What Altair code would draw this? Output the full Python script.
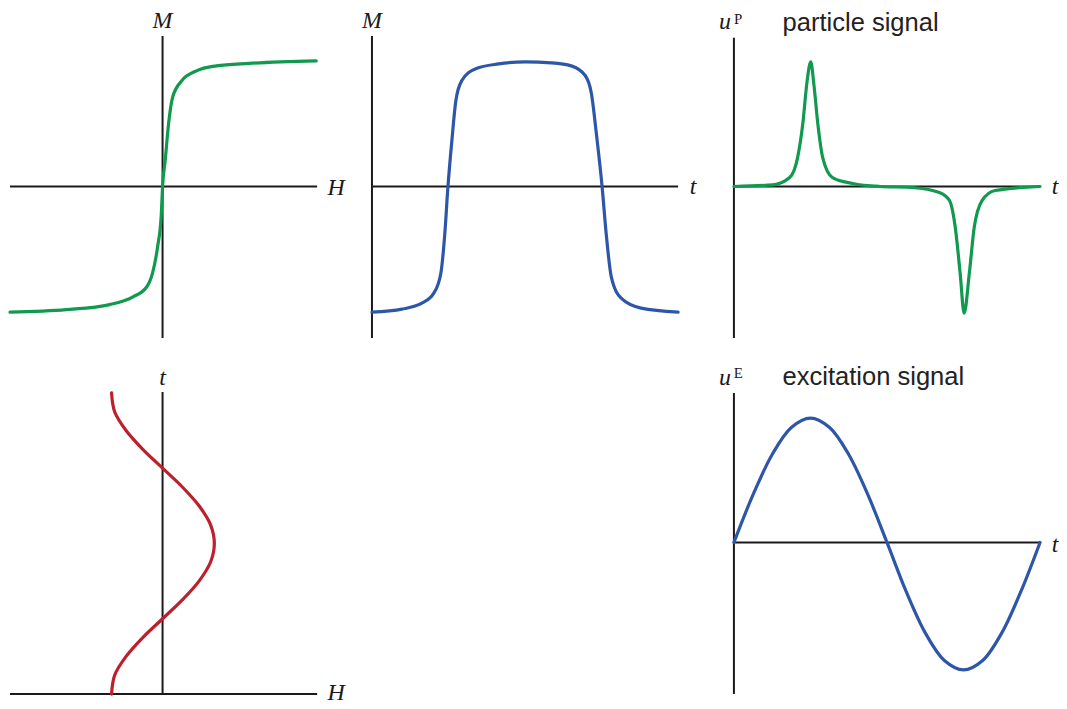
import altair as alt
import pandas as pd

# ---------------- data (normalised units) ----------------
# Panel 1: magnetisation curve M(H)
P1_H = [-0.987, -0.623, -0.342, -0.194, -0.103, -0.065, -0.032, -0.008, 0.0,
        0.017, 0.039, 0.065, 0.123, 0.219, 0.348, 0.561, 0.994]
P1_M = [-1.0, -0.98, -0.94, -0.88, -0.80, -0.69, -0.48, -0.217, 0.0,
        0.206, 0.50, 0.71, 0.84, 0.92, 0.96, 0.98, 1.0]

# Panel 2: magnetisation over time M(t)
P2_T = [0, 0.098, 0.163, 0.202, 0.225, 0.238, 0.248, 0.261, 0.274, 0.293, 0.339, 0.414,
        0.502, 0.586, 0.651, 0.697, 0.717, 0.733, 0.752, 0.765, 0.782, 0.814, 0.879, 1.0]
P2_M = [-1.0, -0.976, -0.929, -0.849, -0.69, -0.373, -0.008, 0.365, 0.683, 0.841, 0.937, 0.976,
        0.992, 0.984, 0.96, 0.881, 0.738, 0.421, -0.008, -0.373, -0.722, -0.889, -0.968, -1.0]

# Panel 3: particle signal u^P(t)
P3_T = [0, 0.127, 0.182, 0.208, 0.225, 0.238, 0.251, 0.261, 0.274, 0.29, 0.322, 0.388,
        0.476, 0.583, 0.671, 0.704, 0.723, 0.739, 0.752, 0.769, 0.785, 0.811, 0.853, 1.0]
P3_U = [0, 0.013, 0.071, 0.23, 0.5, 0.817, 0.992, 0.817, 0.5, 0.23, 0.071, 0.024,
        0, -0.008, -0.048, -0.111, -0.325, -0.69, -1.008, -0.69, -0.325, -0.111, -0.032, 0]

# Panel 4: applied field over time H(t) (time runs upward)
P4_T = [0, 0.0625, 0.125, 0.1875, 0.25, 0.3125, 0.375, 0.4375, 0.5,
        0.5625, 0.625, 0.6875, 0.75, 0.8125, 0.875, 0.9375, 1.0]
P4_H = [-0.33, -0.31, -0.236, -0.128, 0.0, 0.128, 0.236, 0.31, 0.335,
        0.31, 0.236, 0.128, 0.0, -0.128, -0.236, -0.31, -0.33]

# Panel 5: excitation signal u^E(t)
P5_T = [0, 0.0625, 0.125, 0.1875, 0.25, 0.3125, 0.375, 0.4375, 0.5,
        0.5625, 0.625, 0.6875, 0.75, 0.8125, 0.875, 0.9375, 1.0]
P5_U = [0.0, 0.38, 0.70, 0.915, 0.99, 0.915, 0.70, 0.38, 0.0,
        -0.39, -0.72, -0.94, -1.015, -0.94, -0.72, -0.39, 0.0]

# axis extents (x, x2, y, y2) in each panel's own units
AX1 = [(-0.987, 1.0, 0.0, 0.0), (0.0, 0.0, -1.206, 1.198)]
AX2 = [(0.0, 1.0, 0.0, 0.0), (0.0, 0.0, -1.206, 1.198)]
AX3 = [(0.0, 1.0, 0.0, 0.0), (0.0, 0.0, -1.206, 1.183)]
AX4 = [(-0.987, 1.0, 0.0, 0.0), (0.0, 0.0, 0.0, 1.003)]
AX5 = [(0.0, 1.0, 0.0, 0.0), (0.0, 0.0, -1.206, 1.19)]

GREEN = "#10994f"
BLUE = "#2e56a8"
RED = "#bd1f2b"
INK = "#1a1a1a"

SERIF = "Liberation Serif"
SANS = "Liberation Sans"


def panel(xs, ys, axes, color, xdom, ydom, w, h, italic, sup=None, sans=None,
          interp="monotone"):
    xsc = alt.Scale(domain=xdom, nice=False, zero=False)
    ysc = alt.Scale(domain=ydom, nice=False, zero=False)
    X = lambda f: alt.X(f, type="quantitative", scale=xsc, axis=None)
    Y = lambda f: alt.Y(f, type="quantitative", scale=ysc, axis=None)

    rules = pd.DataFrame(axes, columns=["x", "x2", "y", "y2"])
    rule = alt.Chart(rules).mark_rule(color=INK, strokeWidth=2, clip=True).encode(
        x=X("x"), x2="x2", y=Y("y"), y2="y2")

    curve_df = pd.DataFrame({"x": xs, "y": ys, "i": list(range(len(xs)))})
    curve = alt.Chart(curve_df).mark_line(
        color=color, strokeWidth=3.2, interpolate=interp, strokeCap="round",
        strokeJoin="round", clip=True
    ).encode(x=X("x"), y=Y("y"), order="i:Q")

    layers = [rule, curve]
    it = pd.DataFrame(italic, columns=["x", "y", "text"])
    layers.append(alt.Chart(it).mark_text(
        font=SERIF, fontStyle="italic", fontSize=24, color=INK, clip=True,
        align="center", baseline="alphabetic").encode(x=X("x"), y=Y("y"), text="text:N"))
    if sup:
        sd = pd.DataFrame(sup, columns=["x", "y", "text"])
        layers.append(alt.Chart(sd).mark_text(
            font=SERIF, fontSize=15, color=INK, align="center", clip=True,
            baseline="alphabetic").encode(x=X("x"), y=Y("y"), text="text:N"))
    if sans:
        nd = pd.DataFrame(sans, columns=["x", "y", "text"])
        layers.append(alt.Chart(nd).mark_text(
            font=SANS, fontSize=25.6, color="#222222", align="left", clip=True,
            baseline="alphabetic").encode(x=X("x"), y=Y("y"), text="text:N"))
    return alt.layer(*layers).properties(width=w, height=h)


W1, W2, W3 = 350, 350, 354
HR = 348
XD1 = [-1.0, 1.258]
XD2 = [-0.0489, 1.0912]
XD3 = [-0.0912, 1.0619]
YD_TOP = [-1.3492, 1.4127]

p1 = panel(P1_H, P1_M, AX1, GREEN, XD1, YD_TOP, W1, HR,
           italic=[(0.0, 1.262, "M"), (1.123, -0.07, "H")])
p2 = panel(P2_T, P2_M, AX2, BLUE, XD2, YD_TOP, W2, HR,
           italic=[(0.0, 1.262, "M"), (1.049, -0.063, "t")])
p3 = panel(P3_T, P3_U, AX3, GREEN, XD3, YD_TOP, W3, HR,
           italic=[(-0.029, 1.25, "u"), (1.049, -0.063, "t")],
           sup=[(0.014, 1.29, "P")],
           sans=[(0.159, 1.24, "particle signal")])
p4 = panel(P4_H, P4_T, AX4, RED, XD1, [-0.0298, 1.1225], W1, HR,
           italic=[(0.0, 1.026, "t"), (1.123, -0.019, "H")],
           interp="catmull-rom")
empty = alt.Chart(pd.DataFrame({"v": [0]})).mark_point(opacity=0).encode(
    x=alt.X("v:Q", axis=None), y=alt.Y("v:Q", axis=None)
).properties(width=W2, height=HR)
p5 = panel(P5_T, P5_U, AX5, BLUE, XD3, [-1.278, 1.484], W3, HR,
           italic=[(-0.029, 1.254, "u"), (1.049, -0.079, "t")],
           sup=[(0.014, 1.31, "E")],
           sans=[(0.159, 1.254, "excitation signal")],
           interp="catmull-rom")

top = alt.hconcat(p1, p2, p3, spacing=0)
bottom = alt.hconcat(p4, empty, p5, spacing=0)
chart = alt.vconcat(top, bottom, spacing=0).properties(
    padding=0, background="white"
).configure_view(stroke=None)

chart.save("out.html", embed_options={"renderer": "svg", "actions": False})
